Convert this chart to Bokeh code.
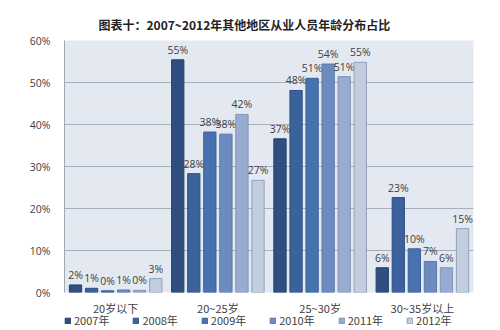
from bokeh.plotting import figure
from bokeh.models import ColumnDataSource, FactorRange, PrintfTickFormatter, Legend, Plot, Range1d, VBar
from bokeh.layouts import column
from bokeh.transform import dodge
from bokeh.embed import file_html
from bokeh.resources import INLINE

title_text = "图表十：2007~2012年其他地区从业人员年龄分布占比"
categories = ["20岁以下", "20~25岁", "25~30岁", "30~35岁以上"]
years = ["2007年", "2008年", "2009年", "2010年", "2011年", "2012年"]
v2007 = [1.8, 55.4, 36.6, 5.9]
v2008 = [1.0, 28.3, 48.1, 22.6]
v2009 = [0.4, 38.2, 51.0, 10.4]
v2010 = [0.6, 37.7, 54.4, 7.4]
v2011 = [0.5, 42.4, 51.4, 5.9]
v2012 = [3.3, 26.7, 54.8, 15.2]
series = [v2007, v2008, v2009, v2010, v2011, v2012]
colors = ["#2f4f80", "#3b629d", "#4672b0", "#6c8bbf", "#98abd0", "#c3cde0"]
edges = ["#24406a", "#2f5185", "#3a6198", "#5a78a8", "#7f93b8", "#909fba"]

p = figure(width=500, height=322, x_range=FactorRange(*categories, range_padding=0, factor_padding=0),
           y_range=(0, 60), output_backend="svg", toolbar_location=None, title=title_text,
           min_border_left=64, min_border_right=27, min_border_top=40, min_border_bottom=30)
p.background_fill_color = "#e4e9f1"
p.border_fill_color = "white"
p.outline_line_color = None

step = 0.157
for j, vals in enumerate(series):
    off = (j - 2.5) * step
    src = ColumnDataSource(dict(cat=categories, val=vals, lab=["%d%%" % round(v) for v in vals]))
    p.vbar(x=dodge("cat", off, range=p.x_range), top="val", width=0.12, source=src,
           fill_color=colors[j], line_color=edges[j], line_width=1)
    p.text(x=dodge("cat", off, range=p.x_range), y="val", text="lab", source=src,
           text_align="center", text_baseline="bottom", y_offset=-3,
           text_font_size="10.5px", text_color="#404040", text_font={"value": "Open Sans"})

p.title.align = "left"
p.title.offset = 34
p.title.standoff = 12
p.title.vertical_align = "top"
p.title.text_font = "Noto Sans CJK SC"
p.title.text_font_size = "12px"
p.title.text_font_style = "bold"
p.title.text_color = "#222222"

p.yaxis.ticker = [0, 10, 20, 30, 40, 50, 60]
p.yaxis.formatter = PrintfTickFormatter(format="%d%%")
p.yaxis.major_tick_line_color = None
p.yaxis.minor_tick_line_color = None
p.yaxis.axis_line_color = "#a0a8b4"
p.yaxis.major_label_text_font = "Open Sans"
p.yaxis.major_label_text_font_size = "10.5px"
p.yaxis.major_label_text_color = "#404040"
p.yaxis.major_label_standoff = 8

p.xaxis.axis_line_color = None
p.xaxis.major_tick_line_color = None
p.xaxis.minor_tick_line_color = None
p.xaxis.major_label_text_font = "Noto Sans CJK SC"
p.xaxis.major_label_text_font_size = "11px"
p.xaxis.major_label_text_color = "#404040"
p.xaxis.major_label_standoff = 1

p.xgrid.grid_line_color = None
p.ygrid.grid_line_color = "#a7afbd"
p.ygrid.grid_line_width = 1

# legend strip below the chart (overlapping the axis panel a little)
leg = Plot(width=500, height=18, x_range=Range1d(0, 1), y_range=Range1d(0, 1), title=None,
           min_border_left=64, min_border_right=0, min_border_top=0, min_border_bottom=0,
           outline_line_color=None, toolbar_location=None, output_backend="svg",
           border_fill_alpha=0, background_fill_alpha=0)
items = []
for j, yr in enumerate(years):
    r = leg.add_glyph(ColumnDataSource(dict(x=[0], top=[0])),
                      VBar(x="x", top="top", width=0, fill_color=colors[j], line_color=edges[j]))
    items.append((yr, [r]))
legend = Legend(items=items, orientation="horizontal", location="top_left",
                glyph_width=7, glyph_height=7, label_standoff=3, spacing=23,
                padding=0, margin=0, border_line_color=None, background_fill_alpha=0,
                label_height=12, label_text_font="Noto Sans CJK SC", label_text_font_size="11px",
                label_text_color="#404040")
leg.add_layout(legend, "center")
leg.margin = (-10, 0, 0, 0)

layout = column(p, leg, spacing=0)
open("out.html", "w").write(file_html(layout, INLINE))
